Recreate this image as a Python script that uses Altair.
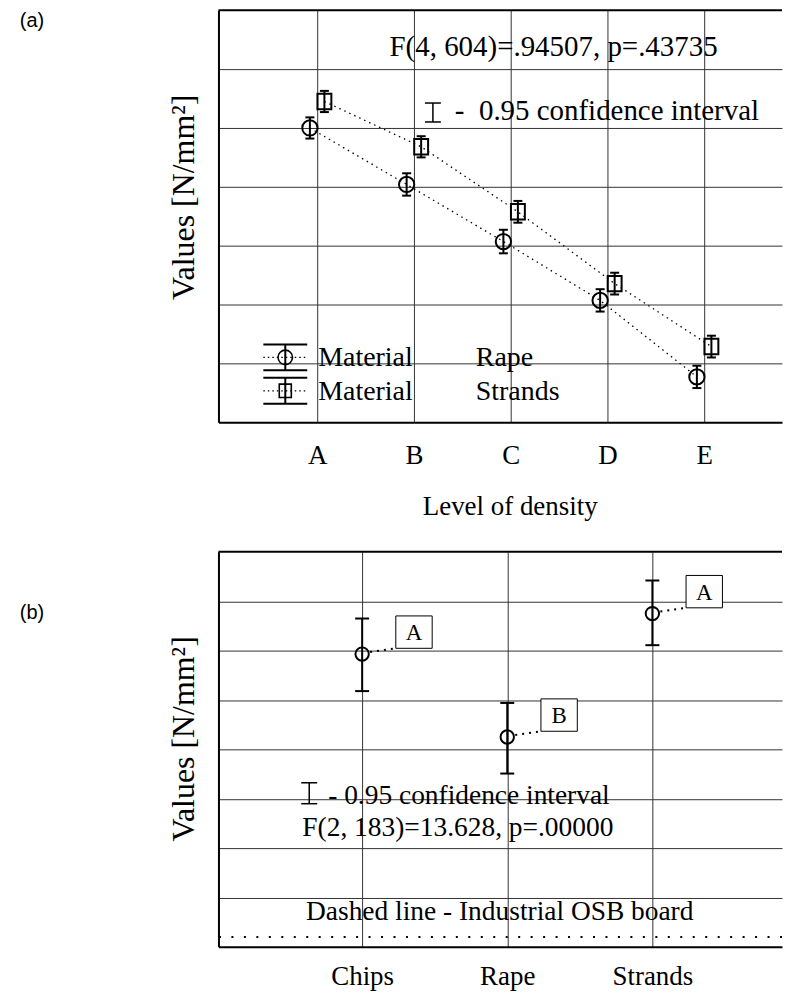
import json
import altair as alt
import pandas as pd

# ---------------- data: panel (a) ----------------
density_levels = ["A", "B", "C", "D", "E"]
series_names = ["Rape", "Strands"]
rape_mean = [5.00, 4.04, 3.07, 2.07, 0.77]
rape_low = [4.82, 3.85, 2.87, 1.88, 0.58]
rape_high = [5.18, 4.23, 3.27, 2.26, 0.96]
strands_mean = [5.45, 4.68, 3.575, 2.355, 1.286]
strands_low = [5.27, 4.50, 3.39, 2.17, 1.10]
strands_high = [5.63, 4.86, 3.76, 2.54, 1.47]
stat_a = "F(4, 604)=.94507, p=.43735"

# ---------------- data: panel (b) ----------------
materials = ["Chips", "Rape", "Strands"]
material_mean = [5.93, 4.25, 6.75]
material_low = [5.18, 3.51, 6.11]
material_high = [6.65, 4.94, 7.42]
material_group = ["A", "B", "A"]
osb_level = [0.2]
stat_b = "F(2, 183)=13.628, p=.00000"

ci_text = "0.95 confidence interval"
y_title = "Values [N/mm\u00b2]"

# ---------------- tables ----------------
rows = []
for name, m, lo, hi in [("Rape", rape_mean, rape_low, rape_high),
                        ("Strands", strands_mean, strands_low, strands_high)]:
    for i, lvl in enumerate(density_levels):
        rows.append(dict(idx=i + 1, level=lvl, series=name, mean=m[i], low=lo[i], high=hi[i]))
df_a = pd.DataFrame(rows)

df_b = pd.DataFrame({"idx": list(range(1, len(materials) + 1)), "material": materials,
                     "mean": material_mean, "low": material_low, "high": material_high,
                     "group": material_group})
one = pd.DataFrame({"k": [0]})

SERIF = "Liberation Serif"
SANS = "Liberation Sans"
FS = 27
W = 565
HA = 413
HB = 396
UB = HB / 8.0  # pixels per unit in panel (b)


def txt(s, x, y, align="left", baseline="alphabetic", size=FS, font=SERIF):
    return alt.Chart(one).mark_text(text=s, font=font, fontSize=size, align=align,
                                    baseline=baseline, color="black").encode(
        x=alt.value(x), y=alt.value(y))


def hline(x1, x2, y, width=2, dash=None):
    kw = dict(strokeWidth=width, color="black")
    if dash:
        kw["strokeDash"] = dash
    return alt.Chart(one).mark_rule(**kw).encode(x=alt.value(x1), x2=alt.value(x2), y=alt.value(y))


def vline(x, y1, y2, width=2):
    return alt.Chart(one).mark_rule(strokeWidth=width, color="black").encode(
        x=alt.value(x), y=alt.value(y1), y2=alt.value(y2))


def ibeam(x, y1, y2, half):
    return [vline(x, y1, y2, 1.5), hline(x - half, x + half, y1, 1.5), hline(x - half, x + half, y2, 1.5)]


SQUARE = "M-0.9,-1L0.9,-1L0.9,1L-0.9,1Z"
BOX = "M-1,-0.89L1,-0.89L1,0.89L-1,0.89Z"

# ---------------- panel (a) ----------------
xa = alt.Scale(domain=[-0.02, -0.02 + W / 97.0], nice=False, zero=False)
ya = alt.Scale(domain=[0, 7], nice=False, zero=False)
xa_axis = alt.Axis(values=list(range(1, len(density_levels) + 1)),
                   labelExpr=json.dumps([""] + density_levels) + "[datum.value]",
                   title="Level of density", titlePadding=26, titleX=292, labelPadding=20)
ya_axis = alt.Axis(values=list(range(1, 7)), labels=False, title=y_title, titlePadding=18,
                   titleFontSize=32, titleY=187)
X_A = alt.X("pos:Q", scale=xa, axis=xa_axis)


def Y_A(f):
    return alt.Y(f + ":Q", scale=ya, axis=ya_axis)


base_a = alt.Chart(df_a).transform_calculate(
    pos="datum.idx + (datum.series == 'Strands' ? 0.075 : -0.075)")

lines_a = base_a.mark_line(strokeDash=[1.5, 4], strokeWidth=1.3, color="black").encode(
    x=X_A, y=Y_A("mean"), detail="series:N", order="idx:Q")
bars_a = base_a.mark_rule(strokeWidth=2, color="black").encode(x=X_A, y=Y_A("low"), y2="high:Q")
cap_lo_a = base_a.mark_rule(strokeWidth=2, color="black", xOffset=-4.5, x2Offset=4.5).encode(
    x=X_A, x2="pos:Q", y=Y_A("low"))
cap_hi_a = base_a.mark_rule(strokeWidth=2, color="black", xOffset=-4.5, x2Offset=4.5).encode(
    x=X_A, x2="pos:Q", y=Y_A("high"))
pts_rape = base_a.transform_filter("datum.series == 'Rape'").mark_point(
    shape="circle", size=235, filled=False, stroke="black", strokeWidth=2, opacity=1).encode(
    x=X_A, y=Y_A("mean"))
pts_strands = base_a.transform_filter("datum.series == 'Strands'").mark_point(
    shape=SQUARE, size=240, filled=False, stroke="black", strokeWidth=2, opacity=1).encode(
    x=X_A, y=Y_A("mean"))


def legend_row(y, shape, size, label):
    return [
        hline(45, 89, y - 13), hline(45, 89, y + 13), vline(67, y - 13, y + 13),
        hline(45, 89, y, 1.2, [1.5, 3]),
        alt.Chart(one).mark_point(shape=shape, size=size, filled=False, stroke="black",
                                  strokeWidth=1.6, opacity=1).encode(x=alt.value(67), y=alt.value(y)),
        txt("Material", 100, y + 9, size=28),
        txt(label, 258, y + 9, size=28),
    ]


ann_a = [
    hline(0, W, 0),
    txt("(a)", -187, 11, align="center", baseline="middle", size=20, font=SANS),
    txt(stat_a, 336, 46, align="center", size=29),
    *ibeam(215, 93, 112, 8),
    txt("-\u00a0 " + ci_text, 237, 110, size=29),
    *legend_row(348, "circle", 210, series_names[0]),
    *legend_row(381.5, SQUARE, 180, series_names[1]),
]

panel_a = alt.layer(lines_a, bars_a, cap_lo_a, cap_hi_a, pts_rape, pts_strands, *ann_a).properties(
    width=W, height=HA)

# ---------------- panel (b) ----------------
xb = alt.Scale(domain=[0.01, 0.01 + W / 145.5], nice=False, zero=False)
yb = alt.Scale(domain=[0, 8], nice=False, zero=False)
xb_axis = alt.Axis(values=list(range(1, len(materials) + 1)),
                   labelExpr=json.dumps([""] + materials) + "[datum.value]",
                   title=None, labelPadding=17)
yb_axis = alt.Axis(values=list(range(1, 8)), labels=False, title=y_title, titlePadding=18,
                   titleFontSize=32, titleY=187)
X_B = alt.X("idx:Q", scale=xb, axis=xb_axis)


def Y_B(f):
    return alt.Y(f + ":Q", scale=yb, axis=yb_axis)


base_b = alt.Chart(df_b)
osb = alt.Chart(pd.DataFrame({"osb": osb_level})).mark_rule(
    strokeDash=[2, 10.5], strokeWidth=2, color="black").encode(y=Y_B("osb"))
bars_b = base_b.mark_rule(strokeWidth=2, color="black").encode(x=X_B, y=Y_B("low"), y2="high:Q")
cap_lo_b = base_b.mark_rule(strokeWidth=2, color="black", xOffset=-7, x2Offset=7).encode(
    x=X_B, x2="idx:Q", y=Y_B("low"))
cap_hi_b = base_b.mark_rule(strokeWidth=2, color="black", xOffset=-7, x2Offset=7).encode(
    x=X_B, x2="idx:Q", y=Y_B("high"))
pts_b = base_b.mark_point(shape="circle", size=180, filled=False, stroke="black",
                          strokeWidth=2, opacity=1).encode(x=X_B, y=Y_B("mean"))
conn_b = base_b.mark_rule(strokeDash=[2, 5], strokeWidth=2, color="black", xOffset=8, yOffset=-2,
                          x2Offset=35, y2Offset=-6).encode(x=X_B, x2="idx:Q", y=Y_B("mean"), y2="mean:Q")
box_b = base_b.mark_point(shape=BOX, size=1330, filled=True, fill="white", stroke="black",
                          strokeWidth=1, opacity=1, xOffset=52, yOffset=-22).encode(x=X_B, y=Y_B("mean"))
lab_b = base_b.mark_text(font=SERIF, fontSize=23, dx=52, dy=-21, align="center", baseline="middle",
                         color="black").encode(x=X_B, y=Y_B("mean"), text="group:N")

g3 = HB - 3 * UB  # pixel row of the third grid line, used to place the notes
ann_b = [
    hline(0, W, 0),
    txt("(b)", -187, 61, align="center", baseline="middle", size=20, font=SANS),
    *ibeam(91, g3 - 16, g3 + 5, 8),
    txt("- " + ci_text, 110, g3 + 5, size=27.5),
    txt(stat_b, 240, g3 + 37, align="center", size=27.5),
    txt("Dashed line - Industrial OSB board", 282, HB - 27, align="center", size=27.5),
]

panel_b = alt.layer(osb, bars_b, cap_lo_b, cap_hi_b, pts_b, conn_b, box_b, lab_b, *ann_b).properties(
    width=W, height=HB)

chart = alt.vconcat(panel_a, panel_b, spacing=31).properties(
    padding={"left": 11, "top": 0, "right": 0, "bottom": 0}
).configure_view(stroke=None).configure_axis(
    gridColor="#333333", gridWidth=1, gridOpacity=1, domainColor="black", domainWidth=2,
    ticks=False, tickSize=0, labelFont=SERIF, labelFontSize=FS, labelColor="black", labelAngle=0,
    titleFont=SERIF, titleFontSize=FS, titleFontWeight="normal", titleColor="black")

chart.save("out.html", embed_options={"renderer": "svg", "actions": False})
